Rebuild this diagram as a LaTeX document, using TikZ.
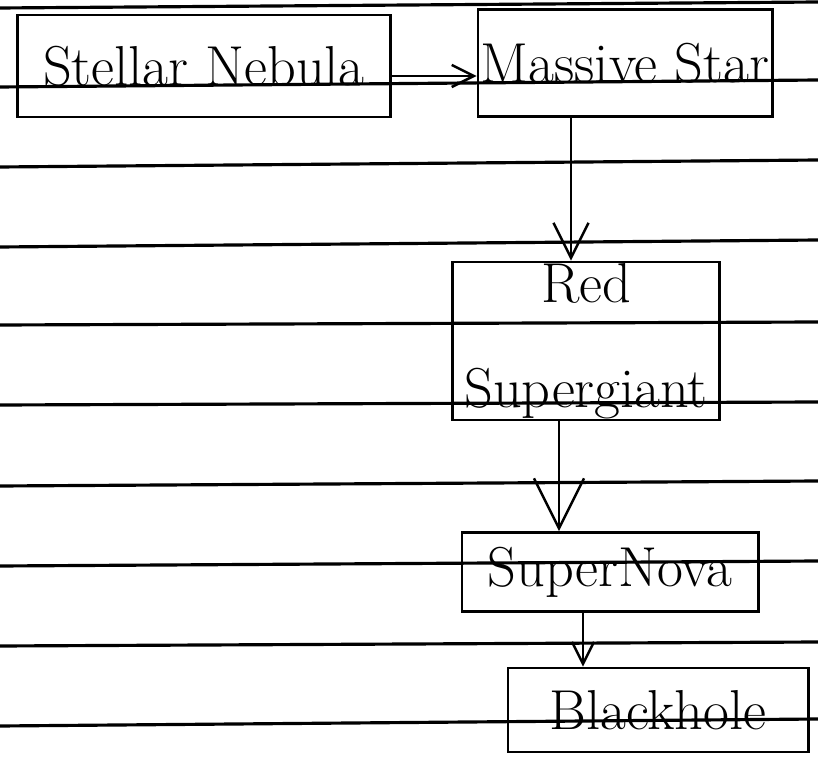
\documentclass[tikz,border=0pt]{standalone}
\usetikzlibrary{arrows.meta}

\tikzset{
	stage/.style={draw,line width=0.8pt,inner sep=0pt,align=center,font=\fontsize{16}{30}\selectfont},
	flow/.style={line width=0.7pt,-{Straight Barb[length=#1,width=#1]}},
	flow/.default=0.35cm
}

\begin{document}
\begin{tikzpicture}[x=0.01cm,y=-0.01cm]
	\useasboundingbox (0,0) rectangle (818,764);
	
	% ruled paper
	\foreach \yl/\yr in {8/2,87/80,167/160,247/240,325/322,405/402,486/481,566/561,646/642,726/719}
	{
		\draw[line width=0.9pt] (0,\yl) -- (818,\yr);
	}
	
	\node[stage,minimum width=3.73cm,minimum height=1.02cm] at (204,66) (nebula) {Stellar Nebula};
	\node[stage,minimum width=2.94cm,minimum height=1.07cm] at (625,63) (massive) {Massive Star};
	\node[stage,minimum width=2.67cm,minimum height=1.58cm] at (586,341) (red) {Red\\Supergiant};
	\node[stage,minimum width=2.96cm,minimum height=0.79cm] at (610,572) (nova) {SuperNova};
	\node[stage,minimum width=3.00cm,minimum height=0.84cm] at (658,710) (black) {Blackhole};
	
	\draw[flow=0.22cm] (nebula.east |- 0,76) -- (massive.west |- 0,76);
	\draw[flow] (massive.south -| 571,0) -- (red.north -| 571,0);
	\draw[flow=0.5cm] (red.south -| 559,0) -- (nova.north -| 559,0);
	\draw[flow=0.22cm] (nova.south -| 583,0) -- (black.north -| 583,0);
\end{tikzpicture}
\end{document}
